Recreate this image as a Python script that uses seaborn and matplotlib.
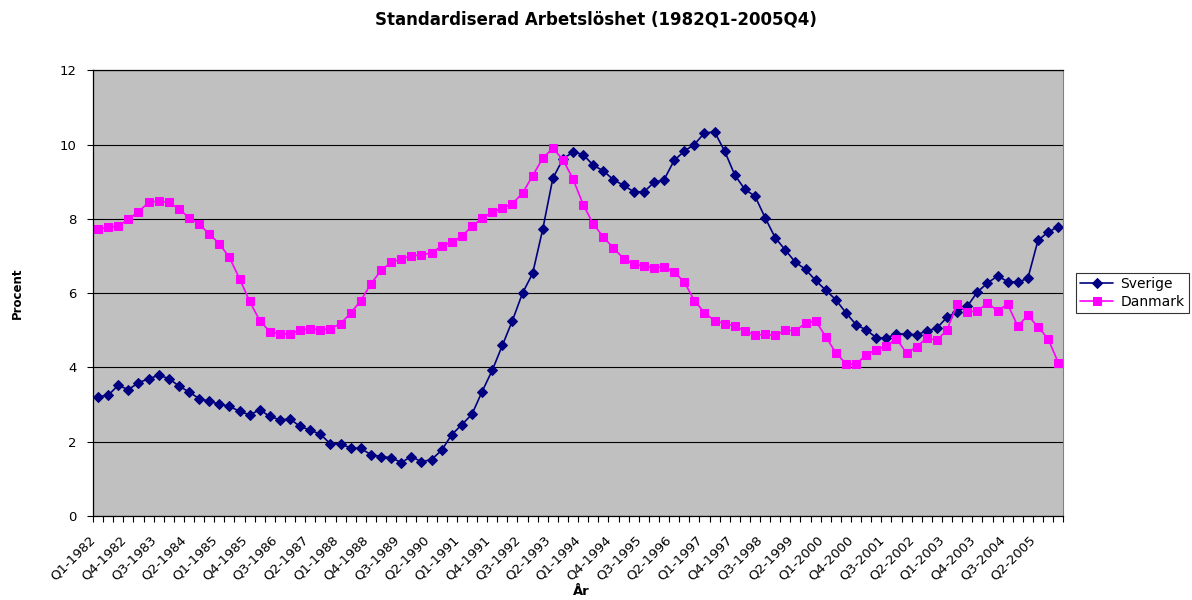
import numpy as np
import pandas as pd
import seaborn as sns
import matplotlib.pyplot as plt
import matplotlib.transforms as mtransforms

# kvartal 1982Q1 - 2005Q4
years = list(range(1982, 2006))
quarters = ['Q%d-%d' % (q, y) for y in years for q in range(1, 5)]

sverige = [3.21, 3.25, 3.52, 3.40, 3.59, 3.69, 3.79, 3.70, 3.50, 3.34,
           3.16, 3.09, 3.01, 2.95, 2.82, 2.72, 2.86, 2.68, 2.59, 2.61,
           2.41, 2.31, 2.20, 1.94, 1.94, 1.83, 1.82, 1.65, 1.60, 1.57,
           1.44, 1.60, 1.46, 1.52, 1.77, 2.19, 2.46, 2.74, 3.35, 3.92,
           4.59, 5.26, 6.00, 6.53, 7.72, 9.09, 9.61, 9.80, 9.73, 9.44,
           9.29, 9.05, 8.90, 8.73, 8.72, 8.98, 9.05, 9.57, 9.82, 10.00,
           10.31, 10.34, 9.82, 9.18, 8.79, 8.61, 8.03, 7.49, 7.16, 6.83,
           6.64, 6.34, 6.08, 5.82, 5.47, 5.15, 5.01, 4.80, 4.79, 4.91,
           4.89, 4.88, 4.98, 5.06, 5.35, 5.50, 5.64, 6.03, 6.27, 6.46,
           6.31, 6.29, 6.40, 7.42, 7.64, 7.79]

danmark = [7.72, 7.77, 7.80, 7.99, 8.19, 8.44, 8.48, 8.44, 8.27, 8.03,
           7.86, 7.59, 7.33, 6.96, 6.39, 5.78, 5.26, 4.96, 4.90, 4.90,
           5.01, 5.04, 5.01, 5.04, 5.18, 5.46, 5.80, 6.25, 6.61, 6.83,
           6.92, 7.00, 7.03, 7.08, 7.27, 7.37, 7.53, 7.80, 8.01, 8.19,
           8.28, 8.41, 8.69, 9.16, 9.63, 9.90, 9.59, 9.07, 8.38, 7.86,
           7.51, 7.21, 6.93, 6.78, 6.73, 6.68, 6.71, 6.57, 6.30, 5.80,
           5.47, 5.26, 5.18, 5.12, 4.98, 4.87, 4.89, 4.86, 5.00, 4.99,
           5.19, 5.25, 4.83, 4.39, 4.10, 4.08, 4.34, 4.48, 4.58, 4.77,
           4.38, 4.56, 4.79, 4.73, 5.01, 5.70, 5.49, 5.52, 5.73, 5.53,
           5.70, 5.11, 5.40, 5.09, 4.77, 4.13]

df = pd.DataFrame({'idx': np.arange(len(quarters)), 'Kvartal': quarters,
                   'Sverige': sverige, 'Danmark': danmark})

sns.set_style('white')
plt.rcParams['font.family'] = ['DejaVu Sans']
plt.rcParams.update({'text.color': 'black', 'axes.labelcolor': 'black',
                     'xtick.color': 'black', 'ytick.color': 'black'})

fig = plt.figure(figsize=(11.92, 6), dpi=100)
ax = fig.add_axes([0.078, 0.14, 0.814, 0.743])
ax.set_facecolor('#C0C0C0')

sns.lineplot(data=df, x='idx', y='Sverige', ax=ax, color='#000080', marker='D',
             markersize=5.5, markeredgecolor='#000080', linewidth=1.2, label='Sverige')
sns.lineplot(data=df, x='idx', y='Danmark', ax=ax, color='#FF00FF', marker='s',
             markersize=6, markeredgecolor='#FF00FF', linewidth=1.2, label='Danmark')

ax.set_xlim(-0.5, len(quarters) - 0.5)
ax.set_ylim(0, 12)
ax.set_yticks(range(0, 13, 2))
ax.yaxis.grid(True, color='black', linewidth=0.8)
ax.set_axisbelow(True)

lab_pos = np.arange(0, len(quarters), 3)
ax.set_xticks(lab_pos)
ax.set_xticklabels([quarters[i] for i in lab_pos], rotation=45, ha='right',
                   rotation_mode='anchor', fontsize=9.5)
ax.set_xticks(np.arange(-0.5, len(quarters), 1), minor=True)
ax.tick_params(axis='x', which='major', length=0, pad=8)
ax.tick_params(axis='x', which='minor', length=4, width=0.8, color='black', direction='out')
ax.tick_params(axis='y', length=4, width=0.8, color='black', direction='out',
               labelsize=9.5, pad=8)
ax.xaxis.set_ticks_position('bottom')
ax.yaxis.set_ticks_position('left')

# flytta etiketterna lite nedåt/vänster som i Excel
shift = mtransforms.ScaledTranslation(-0.09, -0.06, fig.dpi_scale_trans)
for tick in ax.xaxis.get_major_ticks():
    tick.label1.set_transform(tick.label1.get_transform() + shift)

for s in ['left', 'bottom', 'top']:
    ax.spines[s].set_color('black')
    ax.spines[s].set_linewidth(0.9)
ax.spines['right'].set_color('#808080')

ax.set_xlabel('År', fontsize=9.5, fontweight='bold')
ax.xaxis.set_label_coords(0.503, -0.155)
ax.set_ylabel('Procent', fontsize=8.5, fontweight='bold')
ax.yaxis.set_label_coords(-0.071, 0.5)
fig.text(0.4996, 0.968, 'Standardiserad Arbetslöshet (1982Q1-2005Q4)', fontsize=12,
         fontweight='bold', ha='center', va='center', color='black')

leg = ax.legend(loc='center left', bbox_to_anchor=(1.013, 0.5), fontsize=10,
                frameon=True, fancybox=False, borderpad=0.3, handlelength=2.4,
                handletextpad=0.5, labelspacing=0.3, borderaxespad=0)
leg.get_frame().set_edgecolor('black')
leg.get_frame().set_linewidth(0.8)

fig.savefig('out.png', dpi=100)
